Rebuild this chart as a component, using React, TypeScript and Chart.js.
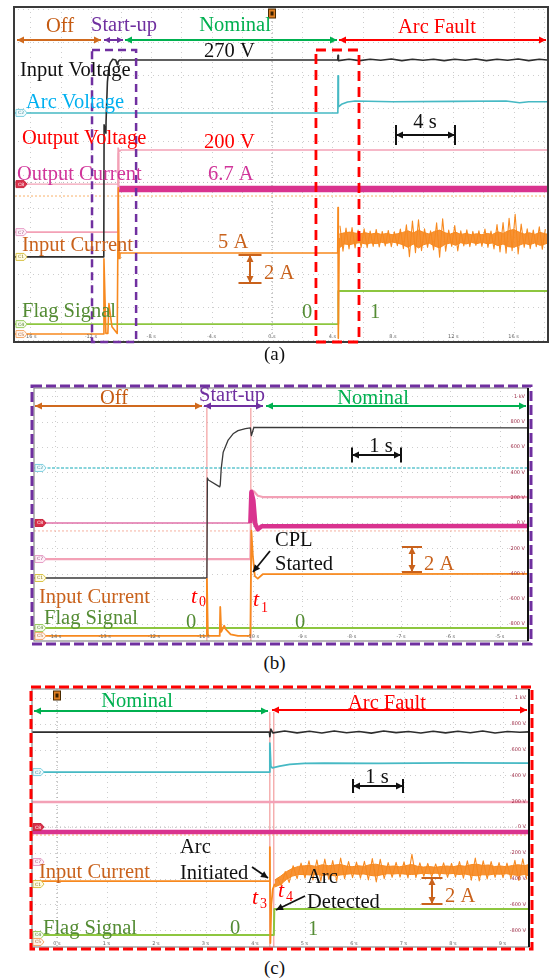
import React, { useEffect, useRef } from "react";
import { Chart, registerables } from "chart.js";

Chart.register(...registerables);

const SERIF = "'Liberation Serif', 'Times New Roman', serif";
const SANS = "'DejaVu Sans', Arial, sans-serif";

const COL = {
  black: "#2d2d2d",
  cyanTrace: "#46b9c4",
  pinkTrace: "#f3a1b6",
  magTrace: "#d9338f",
  orTrace: "#f7891f",
  orFill: "rgba(246,134,30,0.9)",
  grTrace: "#8dc63f",
  offText: "#c55a11",
  offArrow: "#d06a1e",
  purple: "#7030a0",
  green: "#00b050",
  red: "#ff0000",
  arcText: "#00b0f0",
  outCur: "#d1359a",
  inCur: "#c9621c",
  flag: "#548c34",
  tick: "#666666",
  vtick: "#a0304a",
};

/* ================= Panel (a): 4 s / div, levels in % of screen height ================= */
const A_X_RANGE = [-17.02, 18.21];
const A_Y_RANGE = [0, 100];
const A_TICKS_S = [-16, -12, -8, -4, 0, 4, 8, 12, 16];

const A_VIN_T = [-17.02, -11.14, -11.12, -11.0, -10.99, -10.9, -10.8, -10.7, -10.55, -10.35, -10.25, -10.2, -10.1, 4.35, 4.37, 4.4, 5.1, 5.8, 6.5, 7.2, 7.9, 8.6, 9.3, 10.0, 10.7, 11.4, 12.1, 12.8, 13.5, 14.2, 14.9, 15.6, 16.3, 17.0, 17.7, 18.21];
const A_VIN = [25.1, 25.1, 65.0, 62.5, 66.0, 78.0, 82.5, 83.8, 84.8, 84.6, 83.2, 84.0, 84.6, 84.6, 86.0, 84.4, 84.8, 84.4, 84.8, 84.5, 84.9, 84.4, 84.8, 84.5, 84.8, 84.4, 84.8, 84.5, 84.9, 84.4, 84.8, 84.5, 84.9, 84.4, 84.8, 84.6];

const A_ARC_T = [-17.02, 4.36, 4.37, 4.4, 4.6, 5.0, 5.5, 8.0, 12.0, 15.5, 16.4, 17.0, 18.21];
const A_ARC = [68.6, 68.6, 79.8, 70.4, 71.2, 71.9, 72.2, 72.0, 72.1, 72.2, 71.7, 72.0, 72.0];

const A_VOUT_T = [-17.02, -10.21, -10.19, -10.1, -10.0, 18.21];
const A_VOUT = [32.6, 32.6, 58.0, 57.0, 57.4, 57.4];

const A_IOUT_PRE_T = [-17.02, -10.2, -10.18, -10.14];
const A_IOUT_PRE = [47.1, 47.1, 56.5, 45.6];
const A_IOUT_T = [-10.14, 18.21];
const A_IOUT = [45.6, 45.6];

const A_IIN_T = [-17.02, -11.16, -11.13, -11.0, -10.87, -10.8, -10.6, -10.25, -10.21, -10.18, -10.13, -10.07, 4.35, 4.37, 4.39, 4.45];
const A_IIN = [1.8, 1.8, 24.5, 2.0, 2.0, 11.0, 4.0, 2.0, 2.0, 46.0, 24.6, 26.3, 26.3, 40.0, 0.5, 30.8];

/* dense core of the arc-fault current noise */
const A_NOISE_T = [4.45, 4.8, 5.15, 5.5, 5.85, 6.2, 6.55, 6.9, 7.25, 7.6, 7.95, 8.3, 8.65, 9.0, 9.35, 9.7, 10.05, 10.4, 10.75, 11.1, 11.45, 11.8, 12.15, 12.5, 12.85, 13.2, 13.55, 13.9, 14.25, 14.6, 14.95, 15.3, 15.65, 16.0, 16.35, 16.7, 17.05, 17.4, 17.75, 18.1, 18.21];
const A_NOISE_HI = [32.0, 32.4, 32.6, 32.3, 32.1, 32.4, 32.0, 32.3, 31.9, 32.2, 31.8, 32.1, 32.5, 33.0, 32.3, 33.2, 32.5, 32.0, 32.8, 33.2, 32.4, 32.0, 32.6, 31.9, 32.2, 31.8, 32.1, 31.8, 32.2, 31.9, 32.7, 32.2, 33.0, 33.4, 32.6, 32.0, 32.4, 31.9, 32.5, 32.1, 32.0];
const A_NOISE_LO = [27.8, 29.0, 28.8, 29.2, 29.4, 29.0, 29.3, 29.1, 29.5, 29.2, 29.6, 29.3, 28.8, 28.0, 29.0, 27.8, 28.8, 29.3, 28.4, 27.8, 28.9, 29.3, 28.6, 29.4, 29.0, 29.5, 29.1, 29.5, 29.1, 29.3, 28.5, 29.0, 28.2, 28.0, 28.6, 29.2, 28.8, 29.3, 28.6, 29.0, 29.2];

/* peak-to-peak spikes of the arc-fault current noise */
const A_SPK_T = [4.5, 4.7, 4.9, 5.1, 5.3, 5.5, 5.7, 5.9, 6.1, 6.3, 6.5, 6.7, 6.9, 7.1, 7.3, 7.5, 7.7, 7.9, 8.1, 8.3, 8.5, 8.7, 8.9, 9.1, 9.3, 9.5, 9.7, 9.9, 10.1, 10.3, 10.5, 10.7, 10.9, 11.1, 11.3, 11.5, 11.7, 11.9, 12.1, 12.3, 12.5, 12.7, 12.9, 13.1, 13.3, 13.5, 13.7, 13.9, 14.1, 14.3, 14.5, 14.7, 14.9, 15.1, 15.3, 15.5, 15.7, 15.9, 16.1, 16.3, 16.5, 16.7, 16.9, 17.1, 17.3, 17.5, 17.7, 17.9, 18.1];
const A_SPK = [34.5, 26.8, 33.8, 27.5, 34.0, 27.8, 33.2, 28.0, 33.6, 27.9, 32.9, 28.3, 33.4, 28.1, 32.8, 28.4, 33.1, 28.2, 32.7, 28.5, 33.5, 27.6, 34.8, 25.2, 35.9, 26.4, 36.3, 27.0, 33.6, 28.0, 33.0, 27.2, 35.4, 25.0, 36.6, 26.8, 33.2, 28.3, 34.6, 26.9, 33.0, 28.4, 33.3, 28.2, 32.8, 28.6, 33.0, 28.3, 33.5, 28.0, 32.9, 27.5, 34.9, 26.6, 35.5, 26.2, 36.8, 27.0, 38.0, 26.0, 35.0, 28.0, 33.6, 27.6, 33.2, 28.2, 34.2, 27.4, 33.5];

const A_FLAG_T = [-17.02, 4.37, 4.39, 18.21];
const A_FLAG = [4.8, 4.8, 14.8, 14.8];

const A_REF_T = [-17.02, 18.21];
const A_REF_OR = [43.5, 43.5];
const A_REF_GR = [47.6, 47.6];

const A_CH_LABELS = ["C2", "C8", "C7", "C1", "C4", "C5"];
const A_CH_LEVELS = [68.6, 47.1, 32.6, 25.1, 4.8, 1.8];

/* ================= Panel (b): 1 s / div, 200 V / div ================= */
const B_X_RANGE = [-14.43, -4.43];
const B_Y_RANGE = [-933, 1067];
const B_TICKS_S = [-14, -13, -12, -11, -10, -9, -8, -7, -6, -5];
const B_T0 = -10.93;
const B_T1 = -10.04;

const B_VIN_T = [-14.43, -10.93, -10.92, -10.9, -10.67, -10.66, -10.64, -10.6, -10.5, -10.4, -10.3, -10.15, -10.05, -10.03, -9.98, -4.43];
const B_VIN = [-435, -435, 356, 340, 285, 300, 430, 560, 655, 705, 730, 745, 752, 690, 755, 751];

const B_ARC_T = [-14.43, -4.43];
const B_ARC = [435, 435];

const B_VOUT_T = [-14.43, -10.05, -10.03, -9.98, -9.9, -9.8, -4.43];
const B_VOUT = [-285, -285, 262, 250, 215, 205, 205];

const B_IOUT_PRE_T = [-14.43, -10.05];
const B_IOUT_PRE = [0, 0];
const B_IOUT_T = [-10.05, -10.03, -9.99, -9.95, -9.9, -9.82, -4.43];
const B_IOUT = [0, 245, 180, -10, -50, -25, -24];

const B_IIN_T = [-14.43, -10.94, -10.93, -10.91, -10.89, -10.67, -10.66, -10.64, -10.58, -10.55, -10.45, -10.3, -10.05, -10.03, -10.0, -9.96, -9.9, -9.8, -4.43];
const B_IIN = [-893, -893, -443, -880, -893, -893, -664, -860, -812, -840, -880, -893, -893, -60, -260, -420, -440, -405, -403];

const B_FLAG_T = [-14.43, -4.43];
const B_FLAG = [-830, -830];

const B_REF_T = [-14.43, -4.43];
const B_REF_OR = [-63, -63];

const B_CH_LABELS = ["C2", "C8", "C7", "C1", "C4", "C5"];
const B_CH_LEVELS = [435, 0, -285, -435, -830, -893];

/* ================= Panel (c): 1 s / div, 200 V / div ================= */
const C_X_RANGE = [-0.505, 9.535];
const C_Y_RANGE = [-930, 1070];
const C_TICKS_S = [0, 1, 2, 3, 4, 5, 6, 7, 8, 9];
const C_T3 = 4.3;
const C_T4 = 4.38;

const C_VIN_T = [-0.505, 4.29, 4.3, 4.32, 4.36, 4.6, 4.85, 5.1, 5.35, 5.6, 5.85, 6.1, 6.35, 6.6, 6.85, 7.1, 7.35, 7.6, 7.85, 8.1, 8.35, 8.6, 8.85, 9.1, 9.35, 9.535];
const C_VIN = [736, 736, 700, 760, 730, 744, 730, 742, 729, 745, 731, 740, 728, 744, 732, 741, 729, 743, 730, 742, 731, 744, 729, 741, 735, 738];

const C_ARC_T = [-0.505, 4.29, 4.3, 4.32, 4.35, 4.5, 4.7, 5.0, 5.4, 6.5, 8.0, 9.535];
const C_ARC = [426, 426, 651, 470, 458, 472, 486, 493, 496, 494, 497, 495];

const C_VOUT_T = [-0.505, 9.535];
const C_VOUT = [194, 194];

const C_IOUT_T = [-0.505, 9.535];
const C_IOUT = [-39, -39];

const C_IIN_T = [-0.505, 4.29, 4.3, 4.31, 4.33, 4.36, 4.4];
const C_IIN = [-419, -419, -155, -899, -600, -480, -440];

const C_NOISE_T = [4.4, 4.52, 4.64, 4.76, 4.88, 5.0, 5.12, 5.24, 5.36, 5.48, 5.6, 5.72, 5.84, 5.96, 6.08, 6.2, 6.32, 6.44, 6.56, 6.68, 6.8, 6.92, 7.04, 7.16, 7.28, 7.4, 7.52, 7.64, 7.76, 7.88, 8.0, 8.12, 8.24, 8.36, 8.48, 8.6, 8.72, 8.84, 8.96, 9.08, 9.2, 9.32, 9.44, 9.535];
const C_NOISE_HI = [-410, -380, -345, -320, -305, -300, -298, -305, -292, -300, -295, -290, -302, -308, -300, -305, -292, -288, -298, -306, -302, -308, -300, -290, -304, -310, -306, -312, -306, -302, -308, -298, -304, -292, -288, -298, -294, -306, -302, -308, -298, -292, -300, -290];
const C_NOISE_LO = [-465, -445, -405, -380, -368, -368, -372, -366, -376, -370, -378, -372, -366, -362, -366, -364, -374, -380, -370, -362, -364, -360, -366, -368, -364, -358, -362, -358, -360, -364, -360, -368, -364, -374, -378, -370, -372, -364, -366, -362, -370, -376, -368, -378];

const C_SPK_T = [4.45, 4.53, 4.61, 4.69, 4.77, 4.85, 4.93, 5.01, 5.09, 5.17, 5.25, 5.33, 5.41, 5.49, 5.57, 5.65, 5.73, 5.81, 5.89, 5.97, 6.05, 6.13, 6.21, 6.29, 6.37, 6.45, 6.53, 6.61, 6.69, 6.77, 6.85, 6.93, 7.01, 7.09, 7.17, 7.25, 7.33, 7.41, 7.49, 7.57, 7.65, 7.73, 7.81, 7.89, 7.97, 8.05, 8.13, 8.21, 8.29, 8.37, 8.45, 8.53, 8.61, 8.69, 8.77, 8.85, 8.93, 9.01, 9.09, 9.17, 9.25, 9.33, 9.41, 9.49];
const C_SPK = [-395, -455, -345, -430, -300, -400, -280, -395, -262, -410, -255, -420, -248, -405, -260, -418, -240, -400, -268, -392, -272, -396, -266, -410, -245, -425, -250, -400, -276, -390, -274, -388, -270, -395, -212, -392, -278, -382, -282, -386, -286, -384, -278, -390, -282, -388, -268, -396, -262, -412, -240, -418, -262, -402, -268, -390, -276, -392, -280, -398, -258, -415, -246, -405];

const C_FLAG_T = [-0.505, 4.38, 4.39, 9.535];
const C_FLAG = [-837, -837, -636, -636];

const C_REF_T = [-0.505, 9.535];
const C_REF_OR = [-62, -62];
const C_REF_GR = [0, 0];

const C_CH_LABELS = ["C2", "C8", "C7", "C1", "C4", "C5"];
const C_CH_LEVELS = [426, 0, -271, -442, -837, -891];

/* right-hand voltage scale for (b) and (c) */
const V_TICKS = [1000, 800, 600, 400, 200, 0, -200, -400, -600, -800];
const V_TICK_LABELS = ["1 kV", "800 V", "600 V", "400 V", "200 V", "0 V", "-200 V", "-400 V", "-600 V", "-800 V"];

const CH_STYLE: Record<string, [string, string, string]> = {
  C1: ["#d9c44a", "#fffbe3", "#8a7a20"],
  C2: ["#7fd0e0", "#effbfd", "#3a8a9a"],
  C4: ["#9acd60", "#f3fbe9", "#4f7a2a"],
  C5: ["#f5a86a", "#fff3ea", "#a8602a"],
  C7: ["#e8a0c8", "#fdf0f7", "#a05080"],
  C8: ["#c8283f", "#d8304a", "#ffffff"],
};

/* ================= helpers ================= */
type Pt = { x: number; y: number };
const zip = (t: number[], v: number[]): Pt[] => t.map((x, i) => ({ x, y: v[i] }));

function line(data: Pt[], color: string, width: number, extra: any = {}) {
  return {
    data,
    borderColor: color,
    backgroundColor: color,
    borderWidth: width,
    pointRadius: 0,
    fill: false,
    tension: 0,
    borderJoinStyle: "round",
    ...extra,
  };
}

function txt(ctx: any, s: string, x: number, y: number, color: string, opt: any = {}) {
  ctx.save();
  ctx.font = `${opt.italic ? "italic " : ""}${opt.size ?? 20.5}px ${opt.font ?? SERIF}`;
  ctx.fillStyle = color;
  ctx.textAlign = opt.align ?? "left";
  ctx.textBaseline = opt.baseline ?? "alphabetic";
  ctx.fillText(s, x, y);
  ctx.restore();
}

function head(ctx: any, fx: number, fy: number, tx: number, ty: number, len: number, hw: number) {
  const a = Math.atan2(ty - fy, tx - fx);
  const c = Math.cos(a);
  const s = Math.sin(a);
  ctx.beginPath();
  ctx.moveTo(tx, ty);
  ctx.lineTo(tx - len * c - hw * s, ty - len * s + hw * c);
  ctx.lineTo(tx - len * c + hw * s, ty - len * s - hw * c);
  ctx.closePath();
  ctx.fill();
}

function arrow(ctx: any, x1: number, y1: number, x2: number, y2: number, color: string, lw: number, both: boolean, len = 8, hw = 3.5) {
  ctx.save();
  ctx.setLineDash([]);
  ctx.strokeStyle = color;
  ctx.fillStyle = color;
  ctx.lineWidth = lw;
  ctx.beginPath();
  ctx.moveTo(x1, y1);
  ctx.lineTo(x2, y2);
  ctx.stroke();
  head(ctx, x1, y1, x2, y2, len, hw);
  if (both) head(ctx, x2, y2, x1, y1, len, hw);
  ctx.restore();
}

function vSpan(ctx: any, x: number, y1: number, y2: number, cap: number, color: string, lw: number) {
  arrow(ctx, x, y1, x, y2, color, lw, true, 7, 3.5);
  ctx.save();
  ctx.strokeStyle = color;
  ctx.lineWidth = lw;
  ctx.beginPath();
  ctx.moveTo(x - cap, y1);
  ctx.lineTo(x + cap, y1);
  ctx.moveTo(x - cap, y2);
  ctx.lineTo(x + cap, y2);
  ctx.stroke();
  ctx.restore();
}

function hSpan(ctx: any, y: number, x1: number, x2: number, cap: number, color: string, lw: number) {
  arrow(ctx, x1, y, x2, y, color, lw, true, 7, 3.5);
  ctx.save();
  ctx.strokeStyle = color;
  ctx.lineWidth = lw;
  ctx.beginPath();
  ctx.moveTo(x1, y - cap);
  ctx.lineTo(x1, y + cap);
  ctx.moveTo(x2, y - cap);
  ctx.lineTo(x2, y + cap);
  ctx.stroke();
  ctx.restore();
}

function dashRect(ctx: any, x1: number, y1: number, x2: number, y2: number, color: string, lw: number, dash: number[]) {
  ctx.save();
  ctx.strokeStyle = color;
  ctx.lineWidth = lw;
  ctx.setLineDash(dash);
  ctx.strokeRect(x1, y1, x2 - x1, y2 - y1);
  ctx.restore();
}

function frame(ctx: any, x1: number, y1: number, x2: number, y2: number, color: string, lw: number) {
  ctx.save();
  ctx.strokeStyle = color;
  ctx.lineWidth = lw;
  ctx.setLineDash([]);
  ctx.strokeRect(x1, y1, x2 - x1, y2 - y1);
  ctx.restore();
}

function vLine(ctx: any, x: number, y1: number, y2: number, color: string, lw: number, dash: number[] = []) {
  ctx.save();
  ctx.strokeStyle = color;
  ctx.lineWidth = lw;
  ctx.setLineDash(dash);
  ctx.beginPath();
  ctx.moveTo(x, y1);
  ctx.lineTo(x, y2);
  ctx.stroke();
  ctx.restore();
}

function trig(ctx: any, x: number, y: number) {
  ctx.save();
  ctx.fillStyle = "#e07f22";
  ctx.strokeStyle = "#4a2a00";
  ctx.lineWidth = 1;
  ctx.fillRect(x - 3.5, y - 5, 7, 9);
  ctx.strokeRect(x - 3.5, y - 5, 7, 9);
  ctx.fillStyle = "#3a2000";
  ctx.fillRect(x - 1.5, y - 2.5, 3, 4);
  ctx.restore();
}

function chMarker(ctx: any, x: number, y: number, label: string) {
  const [stroke, fill, tc] = CH_STYLE[label];
  ctx.save();
  ctx.beginPath();
  ctx.moveTo(x, y - 3.5);
  ctx.lineTo(x + 8, y - 3.5);
  ctx.lineTo(x + 11, y);
  ctx.lineTo(x + 8, y + 3.5);
  ctx.lineTo(x, y + 3.5);
  ctx.closePath();
  ctx.fillStyle = fill;
  ctx.fill();
  ctx.strokeStyle = stroke;
  ctx.lineWidth = 1;
  ctx.stroke();
  ctx.font = `4.5px ${SANS}`;
  ctx.fillStyle = tc;
  ctx.textBaseline = "middle";
  ctx.textAlign = "left";
  ctx.fillText(label, x + 2, y + 0.3);
  ctx.restore();
}

function tSym(ctx: any, sub: string, x: number, y: number, sx: number, sy: number) {
  txt(ctx, "t", x, y, COL.red, { size: 22, italic: true });
  txt(ctx, sub, sx, sy, COL.red, { size: 14 });
}

type TextItem = [string, number, number, string, CanvasTextAlign?];
function drawTexts(ctx: any, items: TextItem[]) {
  items.forEach(([s, x, y, c, al]) => txt(ctx, s, x, y, c, { align: al ?? "left" }));
}

/* ================= panel decorations ================= */
const TEXT_A: TextItem[] = [
  ["Off", 60, 32, COL.offText, "center"],
  ["Start-up", 124, 31, COL.purple, "center"],
  ["Nominal", 235, 31, COL.green, "center"],
  ["Arc Fault", 437, 33, COL.red, "center"],
  ["270 V", 204, 57, "#111"],
  ["Input Voltage", 20, 76, "#111"],
  ["Arc Voltage", 26, 108, COL.arcText],
  ["Output Voltage", 22, 144, COL.red],
  ["200 V", 204, 148, COL.red],
  ["Output Current", 17, 180, COL.outCur],
  ["6.7 A", 208, 180, COL.outCur],
  ["Input Current", 22, 251, COL.inCur],
  ["5 A", 218, 248, COL.inCur],
  ["2 A", 264, 279, COL.inCur],
  ["Flag Signal", 22, 317, COL.flag],
  ["0", 302, 318, COL.flag],
  ["1", 370, 318, COL.flag],
  ["4 s", 425, 128, "#111", "center"],
];

const TEXT_B: TextItem[] = [
  ["Off", 114, 404, COL.offText, "center"],
  ["Start-up", 232, 401, COL.purple, "center"],
  ["Nominal", 373, 404, COL.green, "center"],
  ["1 s", 381, 452, "#111", "center"],
  ["CPL", 275, 546, "#111"],
  ["Started", 275, 570, "#111"],
  ["2 A", 424, 570, COL.inCur],
  ["Input Current", 39, 603, COL.inCur],
  ["Flag Signal", 44, 624, COL.flag],
  ["0", 186, 628, COL.flag],
  ["0", 295, 628, COL.flag],
];

const TEXT_C: TextItem[] = [
  ["Nominal", 137, 707, COL.green, "center"],
  ["Arc Fault", 387, 709, COL.red, "center"],
  ["1 s", 377, 783, "#111", "center"],
  ["Arc", 180, 853, "#111"],
  ["Initiated", 180, 879, "#111"],
  ["Input Current", 39, 878, COL.inCur],
  ["Arc", 307, 883, "#111"],
  ["Detected", 307, 908, "#111"],
  ["2 A", 445, 902, COL.inCur],
  ["Flag Signal", 43, 934, COL.flag],
  ["0", 230, 934, COL.flag],
  ["1", 308, 935, COL.flag],
];

function datasetsA() {
  return [
    line(zip(A_SPK_T, A_SPK), COL.orTrace, 1.1),
    line(zip(A_NOISE_T, A_NOISE_HI), COL.orTrace, 1),
    line(zip(A_NOISE_T, A_NOISE_LO), COL.orTrace, 1, { fill: "-1", backgroundColor: COL.orFill }),
    line(zip(A_IIN_T, A_IIN), COL.orTrace, 1.6),
    line(zip(A_FLAG_T, A_FLAG), COL.grTrace, 1.8),
    line(zip(A_VIN_T, A_VIN), COL.black, 1.6),
    line(zip(A_ARC_T, A_ARC), COL.cyanTrace, 1.6),
    line(zip(A_VOUT_T, A_VOUT), COL.pinkTrace, 1.6),
    line(zip(A_IOUT_PRE_T, A_IOUT_PRE), COL.pinkTrace, 1.4),
    line(zip(A_IOUT_T, A_IOUT), COL.magTrace, 6.5),
    line(zip(A_REF_T, A_REF_OR), "#f9b26b", 1, { borderDash: [2, 2] }),
    line(zip(A_REF_T, A_REF_GR), "#b8b8b8", 1, { borderDash: [1, 3] }),
  ];
}

function datasetsB() {
  return [
    line(zip(B_IIN_T, B_IIN), COL.orTrace, 1.8),
    line(zip(B_FLAG_T, B_FLAG), COL.grTrace, 2),
    line(zip(B_VIN_T, B_VIN), "#3a3a3a", 1.3),
    line(zip(B_IOUT_T, B_IOUT), COL.magTrace, 4.5),
    line(zip(B_IOUT_PRE_T, B_IOUT_PRE), "#e070a8", 1.5),
    line(zip(B_VOUT_T, B_VOUT), COL.pinkTrace, 2.2),
    line(zip(B_ARC_T, B_ARC), "#62c6cf", 1.5, { borderDash: [3, 1.5] }),
    line(zip(B_REF_T, B_REF_OR), "#f6b0a0", 1, { borderDash: [2, 2] }),
  ];
}

function datasetsC() {
  return [
    line(zip(C_SPK_T, C_SPK), COL.orTrace, 1.1),
    line(zip(C_NOISE_T, C_NOISE_HI), COL.orTrace, 1),
    line(zip(C_NOISE_T, C_NOISE_LO), COL.orTrace, 1, { fill: "-1", backgroundColor: COL.orFill }),
    line(zip(C_IIN_T, C_IIN), COL.orTrace, 1.8),
    line(zip(C_FLAG_T, C_FLAG), COL.grTrace, 2),
    line(zip(C_VIN_T, C_VIN), COL.black, 1.6),
    line(zip(C_ARC_T, C_ARC), COL.cyanTrace, 1.8),
    line(zip(C_VOUT_T, C_VOUT), COL.pinkTrace, 2.4),
    line(zip(C_IOUT_T, C_IOUT), COL.magTrace, 4.5),
    line(zip(C_REF_T, C_REF_OR), "#f9b26b", 1, { borderDash: [2, 2] }),
    line(zip(C_REF_T, C_REF_GR), "#b8b8b8", 1, { borderDash: [1, 3] }),
  ];
}

const PANEL_A = {
  top: 0,
  height: 350,
  pad: { left: 15, right: 2, top: 9, bottom: 10 },
  x: A_X_RANGE,
  y: A_Y_RANGE,
  gridX: 2,
  gridY: 10,
  bottomTicks: A_TICKS_S,
  tickY: 337,
  chLabels: A_CH_LABELS,
  chLevels: A_CH_LEVELS,
  datasets: datasetsA,
  under: (ctx: any, X: any) => {
    vLine(ctx, X(0), 9, 340, "#9a9a9a", 1, [1, 3]);
  },
  over: (ctx: any, X: any) => {
    frame(ctx, 14, 7, 548, 342, "#3a3a3a", 2);
    trig(ctx, X(0), 14);
    dashRect(ctx, X(-11.92), 50, X(-9.0), 342, COL.purple, 2.5, [8, 5]);
    dashRect(ctx, X(2.91), 50, X(5.76), 342, COL.red, 2.8, [10, 6]);
    arrow(ctx, 17, 40, 101, 40, COL.offArrow, 2, true, 7, 3.5);
    arrow(ctx, 104, 40, 123, 40, COL.purple, 2, true, 6, 3);
    arrow(ctx, 125, 40, 337, 40, COL.green, 2, true, 7, 3.5);
    arrow(ctx, 339, 40, 546, 40, COL.red, 2, true, 7, 3.5);
    drawTexts(ctx, TEXT_A);
    vSpan(ctx, 250, 255, 283, 11.5, COL.inCur, 2);
    hSpan(ctx, 135, 396, 455, 10, "#111", 2);
  },
};

const PANEL_B = {
  top: 380,
  height: 272,
  pad: { left: 34, right: 21, top: 8, bottom: 11 },
  x: B_X_RANGE,
  y: B_Y_RANGE,
  gridX: 1,
  gridY: 200,
  bottomTicks: B_TICKS_S,
  tickY: 637,
  rightTicks: true,
  chLabels: B_CH_LABELS,
  chLevels: B_CH_LEVELS,
  datasets: datasetsB,
  under: (ctx: any, X: any) => {
    vLine(ctx, X(B_T0), 408, 641, "#f08a8a", 1);
    vLine(ctx, X(B_T1), 408, 641, "#f08a8a", 1);
  },
  over: (ctx: any) => {
    frame(ctx, 34, 388, 528, 641, "#8a8a8a", 1.2);
    vLine(ctx, 528, 388, 641, "#111", 2);
    dashRect(ctx, 32, 386, 531, 644, COL.purple, 3, [10, 4]);
    arrow(ctx, 35, 406, 202, 406, COL.offArrow, 2, true, 7, 3.5);
    arrow(ctx, 204, 406, 263, 406, COL.purple, 2, true, 7, 3.5);
    arrow(ctx, 266, 406, 526, 406, COL.green, 2, true, 7, 3.5);
    drawTexts(ctx, TEXT_B);
    hSpan(ctx, 455, 352, 401, 7.5, "#111", 2);
    vSpan(ctx, 412, 547, 572, 10, COL.inCur, 2);
    arrow(ctx, 270, 551, 253, 572, "#111", 1.8, false, 7, 3.5);
    tSym(ctx, "0", 191, 603, 199, 606);
    tSym(ctx, "1", 253, 606, 261, 612);
  },
};

const PANEL_C = {
  top: 682,
  height: 274,
  pad: { left: 32, right: 20, top: 7, bottom: 9 },
  x: C_X_RANGE,
  y: C_Y_RANGE,
  gridX: 1,
  gridY: 200,
  bottomTicks: C_TICKS_S,
  tickY: 944,
  rightTicks: true,
  chLabels: C_CH_LABELS,
  chLevels: C_CH_LEVELS,
  datasets: datasetsC,
  under: (ctx: any, X: any) => {
    vLine(ctx, X(0), 689, 947, "#9a9a9a", 1, [1, 3]);
    vLine(ctx, X(C_T3), 712, 947, "#f08a8a", 1);
    vLine(ctx, X(C_T4), 712, 947, "#f08a8a", 1);
  },
  over: (ctx: any, X: any) => {
    frame(ctx, 32, 689, 529, 947, "#8a8a8a", 1.2);
    vLine(ctx, 529, 689, 947, "#111", 2);
    dashRect(ctx, 31, 687, 532, 949, COL.red, 3, [10, 4]);
    trig(ctx, X(0), 696);
    arrow(ctx, 34, 711, 268, 711, COL.green, 2, true, 7, 3.5);
    arrow(ctx, 272, 710, 527, 710, COL.red, 2, true, 7, 3.5);
    drawTexts(ctx, TEXT_C);
    hSpan(ctx, 786, 353, 403, 7, "#111", 2);
    vSpan(ctx, 432, 878, 904, 10.5, COL.inCur, 2);
    arrow(ctx, 252, 867, 268, 878, "#111", 1.8, false, 7, 3.5);
    arrow(ctx, 305, 896, 276, 910, "#111", 1.8, false, 7, 3.5);
    tSym(ctx, "3", 252, 904, 260, 908);
    tSym(ctx, "4", 278, 897, 286, 901);
  },
};

/* ================= chart component ================= */
function drawGrid(ctx: any, X: any, Y: any, area: any, cfg: any) {
  const top = area.top + cfg.top;
  const bot = area.bottom + cfg.top;
  ctx.save();
  ctx.fillStyle = "#cdcdcd";
  const [x0, x1] = cfg.x;
  for (let t = Math.ceil(x0 / cfg.gridX) * cfg.gridX; t <= x1; t += cfg.gridX) {
    const px = Math.round(X(t));
    for (let y = top + 3; y < bot; y += 5) ctx.fillRect(px, y, 1, 1);
  }
  const [y0, y1] = cfg.y;
  for (let v = Math.ceil(y0 / cfg.gridY) * cfg.gridY; v <= y1; v += cfg.gridY) {
    const py = Math.round(Y(v));
    for (let x = area.left + 3; x < area.right; x += 5) ctx.fillRect(x, py, 1, 1);
  }
  ctx.restore();
}

function drawTicks(ctx: any, X: any, Y: any, area: any, cfg: any) {
  ctx.save();
  ctx.font = `5px ${SANS}`;
  ctx.fillStyle = COL.tick;
  ctx.textAlign = "center";
  ctx.textBaseline = "middle";
  cfg.bottomTicks.forEach((s: number) => ctx.fillText(`${s} s`, X(s), cfg.tickY));
  if (cfg.rightTicks) {
    ctx.fillStyle = COL.vtick;
    ctx.textAlign = "right";
    V_TICKS.forEach((v, i) => ctx.fillText(V_TICK_LABELS[i], area.right - 3, Y(v)));
  }
  cfg.chLabels.forEach((lab: string, i: number) => chMarker(ctx, area.left + 1, Y(cfg.chLevels[i]), lab));
  ctx.restore();
}

function ScopePanel({ cfg }: { cfg: any }) {
  const ref = useRef<HTMLCanvasElement | null>(null);
  useEffect(() => {
    const el = ref.current;
    if (!el) return;
    const oy = cfg.top;
    const tools = (chart: any) => {
      const xs = chart.scales.x;
      const ys = chart.scales.y;
      return {
        X: (t: number) => xs.getPixelForValue(t),
        Y: (v: number) => ys.getPixelForValue(v) + oy,
        area: chart.chartArea,
      };
    };
    const chart = new Chart(el, {
      type: "line",
      data: { datasets: cfg.datasets() },
      options: {
        animation: false,
        responsive: false,
        maintainAspectRatio: false,
        devicePixelRatio: 1,
        events: [],
        layout: { padding: cfg.pad },
        plugins: { legend: { display: false }, tooltip: { enabled: false }, title: { display: false } },
        scales: {
          x: { type: "linear", min: cfg.x[0], max: cfg.x[1], display: false },
          y: { type: "linear", min: cfg.y[0], max: cfg.y[1], display: false },
        },
      } as any,
      plugins: [
        {
          id: "scopeDecor",
          beforeDatasetsDraw(c: any) {
            const { X, Y, area } = tools(c);
            const ctx = c.ctx;
            ctx.save();
            ctx.translate(0, -oy);
            drawGrid(ctx, X, Y, area, cfg);
            cfg.under(ctx, X, Y);
            ctx.restore();
          },
          afterDatasetsDraw(c: any) {
            const { X, Y, area } = tools(c);
            const ctx = c.ctx;
            ctx.save();
            ctx.translate(0, -oy);
            drawTicks(ctx, X, Y, area, cfg);
            cfg.over(ctx, X, Y);
            ctx.restore();
          },
        },
      ],
    });
    return () => chart.destroy();
  }, [cfg]);
  return (
    <canvas
      ref={ref}
      width={549}
      height={cfg.height}
      style={{ position: "absolute", left: 0, top: cfg.top, width: 549, height: cfg.height, display: "block" }}
    />
  );
}

function Caption({ top, text }: { top: number; text: string }) {
  return (
    <div
      style={{
        position: "absolute",
        left: 0,
        top,
        width: 549,
        textAlign: "center",
        fontFamily: SERIF,
        fontSize: 19,
        lineHeight: "20px",
        color: "#111",
      }}
    >
      {text}
    </div>
  );
}

export default function App() {
  return (
    <div style={{ position: "absolute", left: 0, top: 0, width: 549, height: 979, background: "#ffffff", overflow: "hidden" }}>
      <ScopePanel cfg={PANEL_A} />
      <ScopePanel cfg={PANEL_B} />
      <ScopePanel cfg={PANEL_C} />
      <Caption top={344} text="(a)" />
      <Caption top={653} text="(b)" />
      <Caption top={958} text="(c)" />
    </div>
  );
}
